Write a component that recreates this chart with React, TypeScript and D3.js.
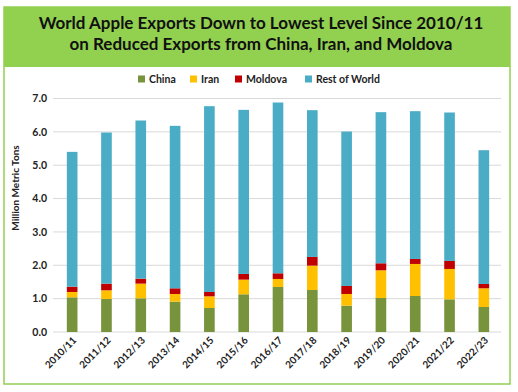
import React, { useEffect, useRef } from "react";
import * as d3 from "d3";

const years = ["2010/11", "2011/12", "2012/13", "2013/14", "2014/15", "2015/16", "2016/17", "2017/18", "2018/19", "2019/20", "2020/21", "2021/22", "2022/23"];
const china = [1.04, 0.99, 1.01, 0.91, 0.72, 1.13, 1.35, 1.26, 0.79, 1.02, 1.08, 0.98, 0.75];
const iran = [0.16, 0.26, 0.44, 0.23, 0.35, 0.44, 0.24, 0.73, 0.35, 0.83, 0.96, 0.91, 0.56];
const moldova = [0.16, 0.2, 0.15, 0.17, 0.13, 0.17, 0.17, 0.26, 0.24, 0.21, 0.15, 0.24, 0.13];
const rest = [4.04, 4.53, 4.74, 4.87, 5.57, 4.92, 5.12, 4.4, 4.63, 4.53, 4.43, 4.45, 4.01];
const seriesNames = ["China", "Iran", "Moldova", "Rest of World"];
const colors = ["#77933C", "#FFC000", "#C00000", "#4BACC6"];
const yTicks = [0, 1, 2, 3, 4, 5, 6, 7];

const FONT = "Lato, 'Open Sans', sans-serif";

export default function App() {
  const svgRef = useRef<SVGSVGElement>(null);

  useEffect(() => {
    const svgEl = d3.select(svgRef.current);
    svgEl.selectAll("*").remove();
    const W = 518;
    const margin = { top: 98.5, left: 55, right: 17 };

    // frame + title band
    svgEl.append("rect").attr("x", 4).attr("y", 7).attr("width", 506).attr("height", 377)
      .attr("fill", "#fff").attr("stroke", "#92D050").attr("stroke-width", 1.5);
    svgEl.append("rect").attr("x", 4).attr("y", 7).attr("width", 506).attr("height", 60)
      .attr("fill", "#92D050");
    const title = svgEl.append("text").attr("text-anchor", "middle")
      .attr("font-family", FONT).attr("font-weight", "bold").attr("font-size", 17).attr("fill", "#111");
    title.append("tspan").attr("x", 261).attr("y", 29).text("World Apple Exports Down to Lowest Level Since 2010/11");
    title.append("tspan").attr("x", 261).attr("y", 50).text("on Reduced Exports from China, Iran, and Moldova");

    const x = d3.scaleBand().domain(years).range([margin.left, W - margin.right]).paddingInner(0.69).paddingOuter(0.345);
    const y = d3.scaleLinear().domain([0, 7]).range([332, margin.top]);

    // gridlines
    svgEl.append("g").selectAll("line").data(yTicks).enter().append("line")
      .attr("x1", margin.left - 2).attr("x2", W - margin.right)
      .attr("y1", d => y(d)).attr("y2", d => y(d))
      .attr("stroke", "#D9D9D9").attr("stroke-width", 1);

    svgEl.append("g").selectAll("text").data(yTicks).enter().append("text")
      .attr("x", 47).attr("y", d => y(d)).attr("dy", "0.35em").attr("text-anchor", "end")
      .attr("font-family", FONT).attr("font-weight", "bold").attr("font-size", 10.5).attr("fill", "#222")
      .text(d => d3.format(".1f")(d));

    svgEl.append("text").attr("transform", `translate(19,188) rotate(-90)`).attr("text-anchor", "middle")
      .attr("font-family", FONT).attr("font-weight", "bold").attr("font-size", 10).attr("fill", "#222")
      .text("Million Metric Tons");

    // stacked bars
    const table = years.map((yr, i) => ({ year: yr, China: china[i], Iran: iran[i], Moldova: moldova[i], "Rest of World": rest[i] }));
    const stack = d3.stack<any>().keys(seriesNames)(table);
    stack.forEach((layer, si) => {
      svgEl.append("g").attr("fill", colors[si]).selectAll("rect").data(layer).enter().append("rect")
        .attr("x", d => x(d.data.year)!).attr("width", x.bandwidth())
        .attr("y", d => y(d[1])).attr("height", d => y(d[0]) - y(d[1]));
    });

    // x labels
    svgEl.append("g").selectAll("text").data(years).enter().append("text")
      .attr("transform", d => `translate(${x(d)! + x.bandwidth() / 2 + 5},341) rotate(-45)`)
      .attr("text-anchor", "end")
      .attr("font-family", FONT).attr("font-weight", "bold").attr("font-size", 10).attr("fill", "#222")
      .text(d => d);

    // legend
    const legendX = [138, 190, 235, 305];
    const lg = svgEl.append("g").selectAll("g").data(seriesNames).enter().append("g")
      .attr("transform", (d, i) => `translate(${legendX[i]},79)`);
    lg.append("rect").attr("x", 0).attr("y", -3.5).attr("width", 7).attr("height", 7).attr("fill", (d, i) => colors[i]);
    lg.append("text").attr("x", 11).attr("dy", "0.35em")
      .attr("font-family", FONT).attr("font-weight", "bold").attr("font-size", 10.5).attr("fill", "#222")
      .text(d => d);
  }, []);

  return (
    <div style={{ position: "absolute", left: 0, top: 0 }}>
      <svg ref={svgRef} width={518} height={392} style={{ display: "block" }}></svg>
    </div>
  );
}
